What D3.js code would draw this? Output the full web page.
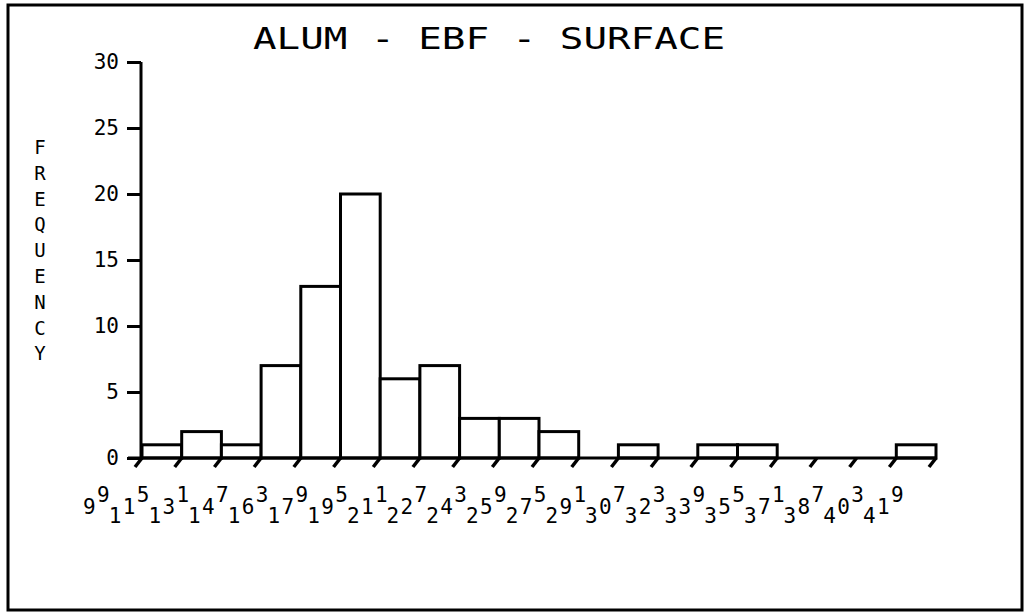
<!DOCTYPE html>
<html><head><meta charset="utf-8">
<script src="https://cdn.jsdelivr.net/npm/d3@7"></script>
<style>html,body{margin:0;padding:0;background:#fff;}svg{display:block;}</style>
</head><body>
<script>
const title = "ALUM - EBF - SURFACE";
const yLabel = "FREQUENCY";
const binEdges = ["9.9","11.5","13.1","14.7","16.3","17.9","19.5","21.1","22.7","24.3","25.9","27.5","29.1","30.7","32.3","33.9","35.5","37.1","38.7","40.3","41.9"];
const counts = [1,2,1,7,13,20,6,7,3,3,2,0,1,0,1,1,0,0,0,1];
const yTicks = [0,5,10,15,20,25,30];

const W = 1026, H = 613;
const svg = d3.select("body").append("svg").attr("width", W).attr("height", H);
const font = "'DejaVu Sans Mono', monospace";

// frame
svg.append("rect").attr("x",8).attr("y",5).attr("width",1014).attr("height",605)
  .attr("fill","none").attr("stroke","#000").attr("stroke-width",3);

const edgesNum = binEdges.map(Number);
const x = d3.scaleLinear().domain([edgesNum[0], edgesNum[edgesNum.length-1]]).range([142, 936]);
const y = d3.scaleLinear().domain([0, 30]).range([458, 62]);

// title
svg.append("text").attr("x",253).attr("y",49).attr("font-family",font).attr("font-size",30)
  .attr("textLength",472).attr("lengthAdjust","spacingAndGlyphs").attr("fill","#000").text(title);

// bars
const bins = counts.map((c,i)=>({x0:edgesNum[i], x1:edgesNum[i+1], c}));
svg.append("g").selectAll("rect").data(bins.filter(b=>b.c>0)).join("rect")
  .attr("x", d=>x(d.x0)).attr("y", d=>y(d.c))
  .attr("width", d=>x(d.x1)-x(d.x0)).attr("height", d=>y(0)-y(d.c))
  .attr("fill","#fff").attr("stroke","#000").attr("stroke-width",3);

// y axis
const yAxis = d3.axisLeft(y).tickValues(yTicks).tickSize(14).tickPadding(8).tickFormat(d3.format("d"));
const gy = svg.append("g").attr("transform","translate(141,0)").call(yAxis);
gy.select(".domain").attr("d", `M0,${y(30)}V${y(0)}`).attr("stroke","#000").attr("stroke-width",3);
gy.selectAll(".tick line").attr("stroke","#000").attr("stroke-width",3);
gy.selectAll(".tick text").attr("font-family",font).attr("font-size",21).attr("fill","#000");

// x axis baseline
svg.append("line").attr("x1",128).attr("x2",x(edgesNum[edgesNum.length-1]))
  .attr("y1",y(0)).attr("y2",y(0)).attr("stroke","#000").attr("stroke-width",3);

// slanted x ticks
svg.append("g").selectAll("line").data(edgesNum).join("line")
  .attr("x1", d=>x(d)).attr("y1", y(0))
  .attr("x2", d=>x(d)-7).attr("y2", y(0)+9)
  .attr("stroke","#000").attr("stroke-width",3.5);

// x tick labels: staircase digits (tens low, units mid, decimal high)
const lg = svg.append("g").attr("font-family",font).attr("font-size",21).attr("fill","#000");
binEdges.forEach((s,i)=>{
  const [ip, dp] = s.split(".");
  const xd = x(edgesNum[i]) - 45;
  const t = lg.append("text");
  if (ip.length === 2) t.append("tspan").attr("x", xd-28).attr("y", 523).text(ip[0]);
  t.append("tspan").attr("x", xd-14).attr("y", 514).text(ip[ip.length-1]);
  t.append("tspan").attr("x", xd).attr("y", 502).text(dp);
});

// y label vertical letters
const yl = svg.append("text").attr("font-family",font).attr("font-size",19).attr("fill","#000")
  .attr("text-anchor","middle");
yLabel.split("").forEach((ch,i)=>{
  yl.append("tspan").attr("x",40).attr("y",154 + i*25.8).text(ch);
});
</script>
</body></html>
